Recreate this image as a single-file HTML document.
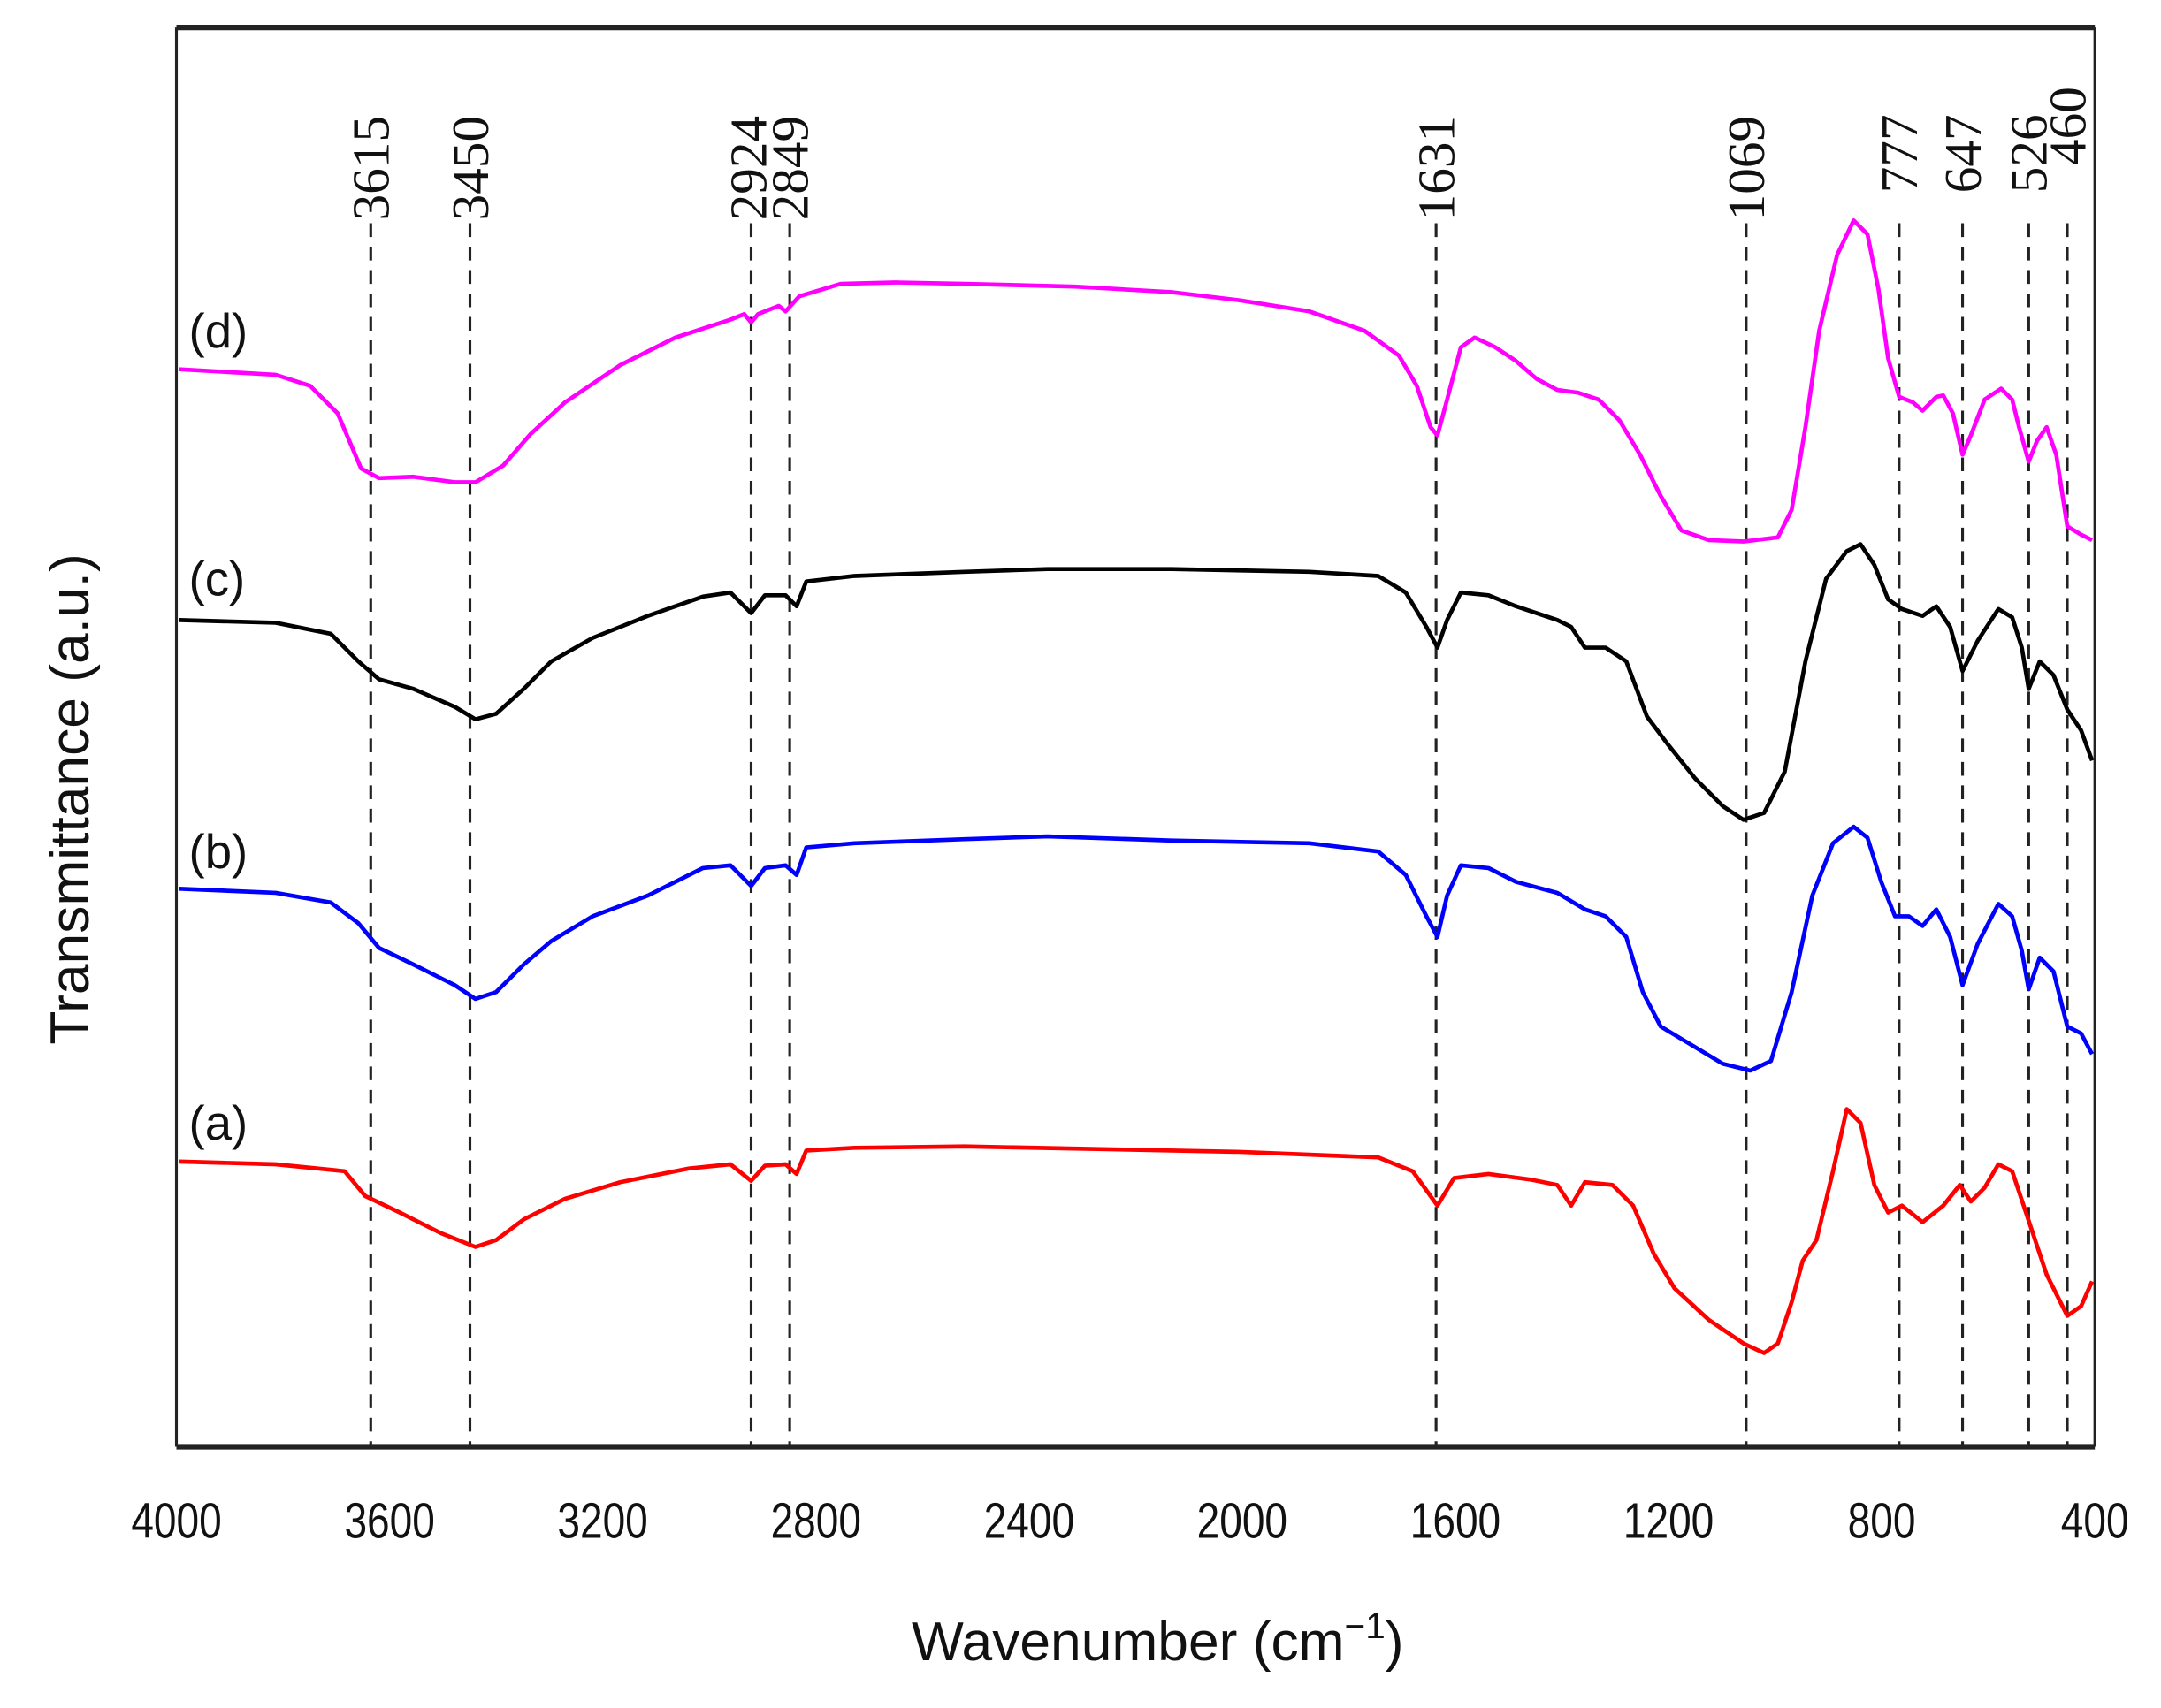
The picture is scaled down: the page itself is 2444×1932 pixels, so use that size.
<!DOCTYPE html>
<html><head><meta charset="utf-8"><style>html,body{margin:0;padding:0;background:#fff}svg{display:block}</style></head>
<body>
<svg width="2444" height="1932" viewBox="0 0 1568 1239.6" preserveAspectRatio="none" xmlns="http://www.w3.org/2000/svg">
<rect width="1568" height="1240" fill="#fff"/>
<g stroke="#222" fill="none">
<line x1="128" y1="20" x2="1520" y2="20" stroke-width="4"/>
<line x1="128" y1="1050" x2="1520" y2="1050" stroke-width="4"/>
<line x1="128" y1="20" x2="128" y2="1050" stroke-width="2"/>
<line x1="1520" y1="20" x2="1520" y2="1050" stroke-width="2"/>
</g>
<g stroke="#222" stroke-width="2" id="ticks"></g>
<g font-family="Liberation Sans, sans-serif" font-size="36" text-anchor="middle" fill="#111">
<text transform="translate(128,1116) scale(0.82,1)">4000</text>
<text transform="translate(282.7,1116) scale(0.82,1)">3600</text>
<text transform="translate(437.3,1116) scale(0.82,1)">3200</text>
<text transform="translate(592,1116) scale(0.82,1)">2800</text>
<text transform="translate(746.7,1116) scale(0.82,1)">2400</text>
<text transform="translate(901.3,1116) scale(0.82,1)">2000</text>
<text transform="translate(1056,1116) scale(0.82,1)">1600</text>
<text transform="translate(1210.7,1116) scale(0.82,1)">1200</text>
<text transform="translate(1365.3,1116) scale(0.82,1)">800</text>
<text transform="translate(1520,1116) scale(0.82,1)">400</text>
</g>
<text x="840" y="1205" font-family="Liberation Sans, sans-serif" font-size="40" text-anchor="middle" fill="#111">Wavenumber (cm<tspan font-size="26" dy="-16">−1</tspan><tspan dy="16">)</tspan></text>
<text transform="translate(64,580) rotate(-90)" font-family="Liberation Sans, sans-serif" font-size="40" text-anchor="middle" fill="#111">Transmittance (a.u.)</text>
<g stroke="#222" stroke-width="2" stroke-dasharray="10,7">
<line x1="269" y1="162" x2="269" y2="1050"/><line x1="341" y1="162" x2="341" y2="1050"/>
<line x1="545" y1="162" x2="545" y2="1050"/><line x1="573" y1="162" x2="573" y2="1050"/>
<line x1="1042" y1="162" x2="1042" y2="1050"/><line x1="1267" y1="162" x2="1267" y2="1050"/>
<line x1="1378" y1="162" x2="1378" y2="1050"/><line x1="1424" y1="162" x2="1424" y2="1050"/>
<line x1="1472" y1="162" x2="1472" y2="1050"/><line x1="1500" y1="162" x2="1500" y2="1050"/>
</g>
<g font-family="Liberation Serif, serif" font-size="38" fill="#111">
<text transform="translate(282,160) rotate(-90)">3615</text>
<text transform="translate(354,160) rotate(-90)">3450</text>
<text transform="translate(556,160) rotate(-90)">2924</text>
<text transform="translate(586,160) rotate(-90)">2849</text>
<text transform="translate(1055,160) rotate(-90)">1631</text>
<text transform="translate(1280,160) rotate(-90)">1069</text>
<text transform="translate(1391,140) rotate(-90)">777</text>
<text transform="translate(1437,140) rotate(-90)">647</text>
<text transform="translate(1485,140) rotate(-90)">526</text>
<text transform="translate(1513,120) rotate(-90)">460</text>
</g>
<g font-family="Liberation Sans, sans-serif" font-size="35" fill="#111">
<text x="137" y="252">(d)</text><text x="137" y="432">(c)</text><text x="137" y="630">(b)</text><text x="137" y="827">(a)</text>
</g>
<g fill="none" stroke-width="3" stroke-linejoin="round">
<polyline stroke="#ff00ff" points="130,268 200,272 225,280 245,300 262,340 275,347 300,346 330,350 345,350 365,338 385,315 410,292 450,265 490,245 530,232 540,228 545,234 550,228 565,222 570,226 580,215 610,206 650,205 700,206 780,208 850,212 900,218 950,226 990,240 1015,258 1028,280 1038,310 1043,316 1050,290 1060,252 1070,245 1085,252 1100,262 1115,275 1130,283 1145,285 1160,290 1175,305 1190,330 1205,360 1220,385 1240,392 1265,393 1290,390 1300,370 1310,310 1320,240 1333,185 1345,160 1355,170 1363,210 1370,260 1378,288 1388,292 1395,298 1405,288 1410,287 1417,300 1424,330 1430,316 1440,290 1452,282 1460,290 1465,310 1472,335 1478,320 1485,310 1492,330 1500,382 1510,388 1518,392"/>
<polyline stroke="#000" points="130,450 200,452 240,460 260,480 275,493 300,500 330,513 345,522 360,518 380,500 400,480 430,463 470,447 510,433 530,430 545,445 555,432 570,432 578,440 585,422 620,418 700,415 760,413 850,413 950,415 1000,418 1020,430 1035,455 1043,470 1050,450 1060,430 1080,432 1100,440 1130,450 1140,455 1150,470 1165,470 1180,480 1195,520 1210,540 1230,565 1250,585 1265,595 1280,590 1295,560 1310,480 1325,420 1340,400 1350,395 1360,410 1370,435 1380,442 1395,447 1405,440 1415,455 1424,487 1435,465 1450,442 1460,448 1467,470 1472,500 1480,480 1490,490 1500,515 1510,530 1518,552"/>
<polyline stroke="#0000ff" points="130,645 200,648 240,655 260,670 275,688 300,700 330,715 345,725 360,720 380,700 400,683 430,665 470,650 510,630 530,628 545,643 555,630 570,628 578,635 585,615 620,612 700,609 760,607 850,610 950,612 1000,618 1020,635 1035,665 1043,680 1050,650 1060,628 1080,630 1100,640 1130,648 1150,660 1165,665 1180,680 1192,720 1205,745 1230,760 1250,772 1270,777 1285,770 1300,720 1315,650 1330,612 1345,600 1355,608 1365,640 1375,665 1385,665 1395,672 1405,660 1415,680 1424,715 1435,685 1450,656 1460,665 1467,690 1472,718 1480,695 1490,705 1500,745 1510,750 1518,765"/>
<polyline stroke="#ff0000" points="130,843 200,845 250,850 265,868 290,880 320,895 345,905 360,900 380,885 410,870 450,858 500,848 530,845 545,857 555,846 570,845 578,852 585,835 620,833 700,832 800,834 900,836 1000,840 1025,850 1043,875 1055,855 1080,852 1110,856 1130,860 1140,875 1150,858 1170,860 1185,875 1200,910 1215,935 1240,958 1265,975 1280,982 1290,975 1300,945 1308,915 1318,900 1330,850 1340,805 1350,815 1360,860 1370,880 1380,875 1395,887 1410,875 1422,860 1430,872 1440,862 1450,845 1460,850 1470,880 1485,925 1500,955 1510,948 1518,930"/>
</g>
<script>
var g=document.getElementById('ticks'),s='';
for(var w=4000;w>=400;w-=80){var x=128+(4000-w)*1392/3600;var L=(w%400==0)?1080:1067;s+='<line x1="'+x+'" y1="1050" x2="'+x+'" y2="'+L+'"/>';}
g.innerHTML=s;
</script>
</svg>
</body></html>
